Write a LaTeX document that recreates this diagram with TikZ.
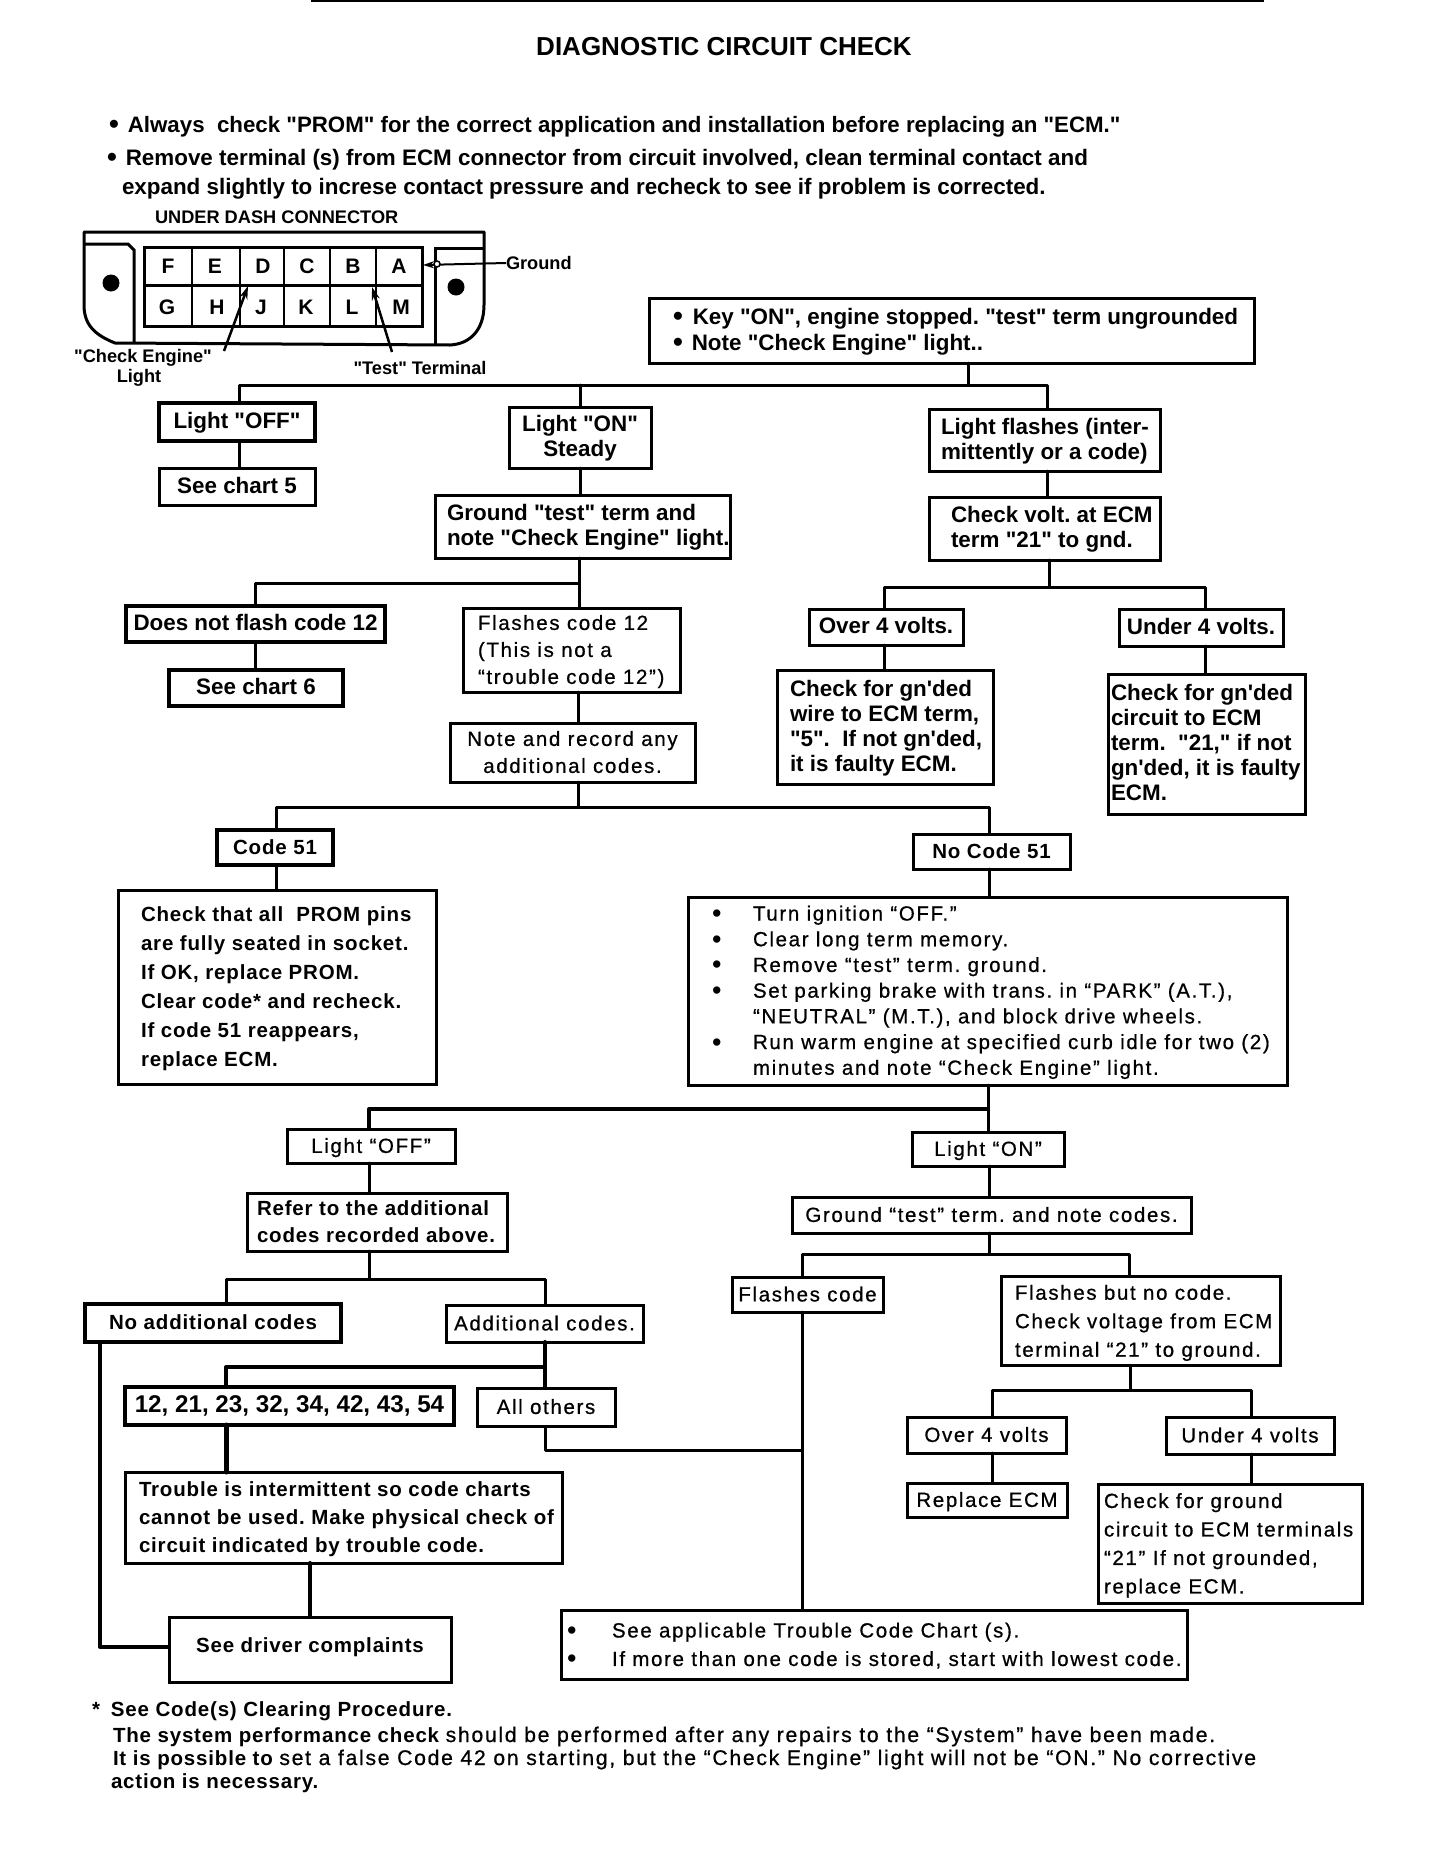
\documentclass[tikz,border=0pt]{standalone}
\usepackage{fontspec}
\setmainfont{Liberation Sans}
\newfontfamily\lsf{Liberation Sans}
\newfontfamily\tyf[LetterSpace=8,RawFeature={embolden=0.7}]{Liberation Sans}
\newfontfamily\tyb[LetterSpace=4]{Liberation Sans}
\usetikzlibrary{arrows.meta}
\frenchspacing
\newcommand\fh{\fontsize{22.4}{25}\selectfont\lsf\bfseries}
\newcommand\fs{\fontsize{18.2}{20}\selectfont\lsf\bfseries}
\newcommand\ft[1][27]{\fontsize{20.5}{#1}\selectfont\tyf\mdseries}
\newcommand\fb[1][27]{\fontsize{20.5}{#1}\selectfont\tyb\bfseries}
\newcommand\ftf{\fontsize{21.2}{27}\selectfont\tyf\mdseries}
\tikzset{
  bxs/.style={draw,line width=3pt,inner sep=0pt,outer sep=0pt,text=black},
  tx/.style={inner sep=0pt,outer sep=0pt,text=black},
  lnk/.style={line width=3pt,line join=round,line cap=round},
  hv/.style={line width=3pt,line join=round},
  arw/.style={line width=2.5pt,-{Stealth[length=13pt,width=8pt]}},
}
% centre-aligned box: name,x0,y0,x1,y1,font,lines
\newcommand\cbx[7]{%
  \pgfmathsetmacro\WW{#4-#2}\pgfmathsetmacro\HH{#5-#3}%
  \pgfmathsetmacro\CX{(#2+#4)/2}\pgfmathsetmacro\CY{(#3+#5)/2}%
  \node[bxs,minimum width=\WW pt,minimum height=\HH pt] (#1) at (\CX,\CY)
    {\vbox{\kern3pt\hbox{#6\begin{tabular}{@{}c@{}}#7\end{tabular}}}};}
% left-aligned box: name,x0,y0,x1,y1,pad,font,lines
\newcommand\lbx[8]{%
  \pgfmathsetmacro\WW{#4-#2}\pgfmathsetmacro\HH{#5-#3}%
  \pgfmathsetmacro\CX{(#2+#4)/2}\pgfmathsetmacro\CY{(#3+#5)/2}%
  \node[bxs,minimum width=\WW pt,minimum height=\HH pt] (#1) at (\CX,\CY)
    {\vbox{\kern3pt\hbox{\makebox[\WW pt][l]{\hspace*{#6pt}#7\begin{tabular}{@{}l@{}}#8\end{tabular}}}}};}
\newcommand\thk[1]{\begin{scope}[bxs/.append style={line width=4pt}]#1\end{scope}}
\newcommand\bul[1]{\makebox[#1pt][l]{\raisebox{-2pt}{\fontsize{27}{27}\selectfont\lsf •}}}
\newcommand\nob[1]{\makebox[#1pt][l]{}}
\newcommand\bigdot{\raisebox{-1.5pt}{\fontsize{28}{25}\selectfont\lsf\bfseries •}}
\begin{document}
\begin{tikzpicture}[x=1pt,y=-1pt]
\useasboundingbox (0,0) rectangle (1440,1874);
\fill[white] (0,0) rectangle (1440,1874);
\draw[line width=2pt] (311,1) -- (1264,1);

% heading
\node[tx,anchor=base] (title) at (724,55) {\fontsize{26}{30}\selectfont\lsf\bfseries DIAGNOSTIC CIRCUIT CHECK};
\node[tx,anchor=base west] (n1) at (109,132) {\fontsize{22.3}{25}\selectfont\lsf\bfseries \bigdot\hspace{9pt}Always\ \ check "PROM" for the correct application and installation before replacing an "ECM."};
\node[tx,anchor=base west] (n2) at (107,165) {\fh \bigdot\hspace{9pt}Remove terminal (s) from ECM connector from circuit involved, clean terminal contact and};
\node[tx,anchor=base west] (n3) at (122,194) {\fh expand slightly to increse contact pressure and recheck to see if problem is corrected.};

% connector sketch
\node[tx,anchor=base west] (udc) at (155,223) {\fs UNDER DASH CONNECTOR};
\draw[line width=3pt,line join=round] (84,232) -- (484,232) -- (484,305) .. controls (484,330) and (470,344) .. (450,345) -- (115,343) .. controls (95,335) and (84,325) .. (84,305) -- cycle;
\draw[line width=3pt] (84,244) -- (128,244) -- (134,250) -- (134,343);
\draw[line width=3pt] (484,248) -- (435,248) -- (435,345);
\fill (111,283) circle (8.5);
\fill (456,287) circle (8.5);
\draw[line width=3pt] (144,247) rectangle (422,326);
\draw[line width=3pt] (144,285) -- (422,285);
\foreach \vx in {192,240,284,330,376} \draw[line width=2.5pt] (\vx,247) -- (\vx,326);
\foreach \nm/\lx/\ly in {F/168/266,E/215/266,D/263/266,C/307/266,B/353/266,A/399/266,G/167/307,H/217/307,J/261/307,K/306/307,L/352/307,M/401/307}
  \node[tx] (pin\nm) at (\lx,\ly) {\fontsize{21}{24}\selectfont\bfseries \nm};
\node[tx,anchor=west] (gnd) at (506,263) {\fs Ground};
\node[tx] (ce1) at (143,358) {\fs "Check Engine"};
\node[tx] (ce2) at (139,378) {\fs Light};
\node[tx] (tst) at (420,368) {\fs "Test" Terminal};
\coordinate (cetail) at (224,351);
\coordinate (cetip) at (248,286);
\coordinate (tsttail) at (392,352);
\coordinate (tsttip) at (372,287);
\coordinate (gtip) at (423,265);
\draw[arw] (cetail) -- (cetip);
\draw[arw] (tsttail) -- (tsttip);
\draw[line width=2pt,-{Stealth[length=11pt,width=7pt]}] (gnd.west) -- (gtip);
\draw[line width=1.5pt,fill=white] (437,264) circle (3);

% boxes, upper part
\lbx{key}{649}{298}{1254}{363}{24}{\fh}{\bigdot\hspace{10pt}Key "ON", engine stopped. "test" term ungrounded\\[1pt]\bigdot\hspace{9pt}Note "Check Engine" light..}
\thk{\cbx{off}{159}{403}{315}{441}{\fh}{Light "OFF"}}
\cbx{ch5}{159}{468}{315}{505}{\fh}{See chart 5}
\cbx{on}{509}{407}{651}{468}{\fh}{Light "ON"\\Steady}
\lbx{fl}{929}{409}{1160}{471}{12}{\fh}{Light flashes (inter-\\mittently or a code)}
\lbx{gt}{435}{495}{730}{558}{12}{\fh}{Ground "test" term and\\note "Check Engine" light.}
\lbx{cv}{929}{497}{1160}{560}{22}{\fh}{Check volt. at ECM\\term "21" to gnd.}
\thk{\cbx{nf}{126}{606}{385}{642}{\fh}{Does not flash code 12}}
\thk{\cbx{ch6}{169}{670}{343}{706}{\fh}{See chart 6}}
\lbx{f12}{463}{608}{680}{692}{15}{\ft}{Flashes code 12\\(This is not a\\“trouble code 12”)}
\cbx{nr}{450}{723}{695}{782}{\ft}{Note and record any\\additional codes.}
\cbx{ov}{809}{609}{963}{645}{\fh}{Over 4 volts.}
\cbx{un}{1119}{609}{1283}{646}{\fh}{Under 4 volts.}
\lbx{gw}{777}{670}{993}{784}{13}{\fh}{Check for gn'ded\\wire to ECM term,\\"5".\ \ If not gn'ded,\\it is faulty ECM.}
\lbx{gc}{1108}{674}{1305}{814}{3}{\fh}{Check for gn'ded\\circuit to ECM\\term.\ \ "21," if not\\gn'ded, it is faulty\\ECM.}

% boxes, middle part
\thk{\cbx{c51}{217}{830}{333}{865}{\fb}{Code 51}}
\cbx{nc51}{913}{834}{1070}{869}{\fb}{No Code 51}
\lbx{prom}{118}{890}{436}{1084}{23}{\fb[29]}{Check that all\ \ PROM pins\\are fully seated in socket.\\If OK, replace PROM.\\Clear code* and recheck.\\If code 51 reappears,\\replace ECM.}
\lbx{turn}{688}{897}{1287}{1085}{24}{\ft[25.7]}{\bul{41}Turn ignition “OFF.”\\\bul{41}Clear long term memory.\\\bul{41}Remove “test” term. ground.\\\bul{41}Set parking brake with trans. in “PARK” (A.T.),\\\nob{41}“NEUTRAL” (M.T.), and block drive wheels.\\\bul{41}Run warm engine at specified curb idle for two (2)\\\nob{41}minutes and note “Check Engine” light.}
\cbx{off2}{287}{1129}{455}{1163}{\ft}{Light “OFF”}
\cbx{on2}{912}{1132}{1064}{1166}{\ft}{Light “ON”}
\lbx{ref}{247}{1193}{507}{1251}{10}{\fb}{Refer to the additional\\codes recorded above.}
\cbx{g2}{792}{1197}{1191}{1233}{\ft}{Ground “test” term. and note codes.}

% boxes, lower part
\thk{\cbx{nac}{85}{1304}{341}{1342}{\fb}{No additional codes}}
\cbx{ac}{446}{1305}{643}{1342}{\ft}{Additional codes.}
\thk{\cbx{cl}{125}{1387}{454}{1425}{\fontsize{24.2}{27}\selectfont\lsf\bfseries}{12, 21, 23, 32, 34, 42, 43, 54}}
\cbx{ao}{477}{1388}{615}{1426}{\ft}{All others}
\lbx{tr}{125}{1472}{562}{1563}{14}{\fb[28]}{Trouble is intermittent so code charts\\cannot be used. Make physical check of\\circuit indicated by trouble code.}
\cbx{sd}{169}{1617}{451}{1682}{\fb}{See driver complaints\\[8pt]}
\cbx{fc}{732}{1277}{883}{1312}{\ft}{Flashes code}
\lbx{fb}{1001}{1278}{1280}{1364}{14}{\ft[28.5]}{Flashes but no code.\\Check voltage from ECM\\terminal “21” to ground.}
\cbx{o4}{907}{1417}{1066}{1453}{\ft}{Over 4 volts}
\cbx{u4}{1166}{1417}{1334}{1454}{\ft}{Under 4 volts}
\cbx{re}{907}{1483}{1067}{1517}{\ft}{Replace ECM}
\lbx{cg}{1098}{1484}{1362}{1603}{6}{\ft[28.5]}{Check for ground\\circuit to ECM terminals\\“21” If not grounded,\\replace ECM.}
\lbx{sa}{561}{1610}{1187}{1679}{6}{\ft[28.5]}{\bul{45}See applicable Trouble Code Chart (s).\\\bul{45}If more than one code is stored, start with lowest code.}

% footer
\node[tx,anchor=base west] (f1) at (92,1716) {\fb *\hspace{11pt}See Code(s) Clearing Procedure.};
\node[tx,anchor=base west] (f2) at (113,1742) {\fb The system performance check \ftf should be performed after any repairs to the “System” have been made.};
\node[tx,anchor=base west] (f3) at (113,1765) {\fb It is possible to \ftf set a false Code 42 on starting, but the “Check Engine” light will not be “ON.” No corrective};
\node[tx,anchor=base west] (f4) at (111,1788) {\fb action is necessary.};

% junctions
\coordinate (j1) at (968,385);
\coordinate (j1a) at (239,385);
\coordinate (j1b) at (580,385);
\coordinate (j1c) at (1047,385);
\coordinate (j2) at (579,583);
\coordinate (j2a) at (255,583);
\coordinate (j3) at (1049,587);
\coordinate (j3a) at (884,587);
\coordinate (j3b) at (1205,587);
\coordinate (j4) at (578,807);
\coordinate (j4a) at (276,807);
\coordinate (j4b) at (989,807);
\coordinate (j5) at (988,1109);
\coordinate (j5a) at (369,1109);
\coordinate (j6) at (369.5,1279);
\coordinate (j6a) at (226,1279);
\coordinate (j6b) at (545,1279);
\coordinate (j7) at (989,1254);
\coordinate (j7a) at (802,1254);
\coordinate (j7b) at (1129,1254);
\coordinate (j8) at (545,1367);
\coordinate (j8a) at (226,1367);
\coordinate (j9) at (1130,1390);
\coordinate (j9a) at (992,1390);
\coordinate (j9b) at (1251,1390);
\coordinate (j10) at (802,1450);
\coordinate (j10a) at (545,1450);
\coordinate (lft) at (100,1647);

% connectors
\draw[lnk] (key.south -| j1) -- (j1);
\draw[hv] (off.north -| j1a) -- (j1a) -- (j1c) -- (fl.north -| j1c);
\draw[lnk] (j1b) -- (on.north -| j1b);
\draw[lnk] (off.south -| j1a) -- (ch5.north -| j1a);
\draw[lnk] (on.south -| j1b) -- (gt.north -| j1b);
\draw[lnk] (fl.south -| j1c) -- (cv.north -| j1c);
\draw[lnk] (gt.south -| j2) -- (f12.north -| j2);
\draw[hv] (nf.north -| j2a) -- (j2a) -- (j2);
\draw[lnk] (nf.south -| j2a) -- (ch6.north -| j2a);
\draw[lnk] (f12.south -| j4) -- (nr.north -| j4);
\draw[lnk] (cv.south -| j3) -- (j3);
\draw[hv] (ov.north -| j3a) -- (j3a) -- (j3b) -- (un.north -| j3b);
\draw[lnk] (ov.south -| j3a) -- (gw.north -| j3a);
\draw[lnk] (un.south -| j3b) -- (gc.north -| j3b);
\draw[lnk] (nr.south -| j4) -- (j4);
\draw[hv] (c51.north -| j4a) -- (j4a) -- (j4b) -- (nc51.north -| j4b);
\draw[lnk] (c51.south -| j4a) -- (prom.north -| j4a);
\draw[lnk] (nc51.south -| j4b) -- (turn.north -| j4b);
\draw[lnk] (turn.south -| j5) -- (on2.north -| j5);
\draw[hv,line width=4pt] (off2.north -| j5a) -- (j5a) -- (j5);
\draw[lnk] (off2.south -| j5a) -- (ref.north -| j5a);
\draw[lnk] (on2.south -| j7) -- (g2.north -| j7);
\draw[lnk] (ref.south -| j6) -- (j6);
\draw[hv] (nac.north -| j6a) -- (j6a) -- (j6b) -- (ac.north -| j6b);
\draw[lnk] (g2.south -| j7) -- (j7);
\draw[hv] (fc.north -| j7a) -- (j7a) -- (j7b) -- (fb.north -| j7b);
\draw[lnk] (fc.south -| j7a) -- (sa.north -| j7a);
\draw[lnk] (fb.south -| j9) -- (j9);
\draw[hv] (o4.north -| j9a) -- (j9a) -- (j9b) -- (u4.north -| j9b);
\draw[lnk] (o4.south -| j9a) -- (re.north -| j9a);
\draw[lnk] (u4.south -| j9b) -- (cg.north -| j9b);
\draw[lnk,line width=4pt] (ac.south -| j8) -- (ao.north -| j8);
\draw[hv,line width=4pt] (cl.north -| j8a) -- (j8a) -- (j8);
\draw[lnk,line width=5pt] (cl.south -| j8a) -- (tr.north -| j8a);
\draw[hv] (ao.south -| j10a) -- (j10a) -- (j10);
\draw[lnk,line width=4pt] (tr.south -| sd.north) -- (sd.north);
\draw[hv,line width=4pt] (nac.south -| lft) -- (lft) -- (lft -| sd.west);
\end{tikzpicture}
\end{document}
